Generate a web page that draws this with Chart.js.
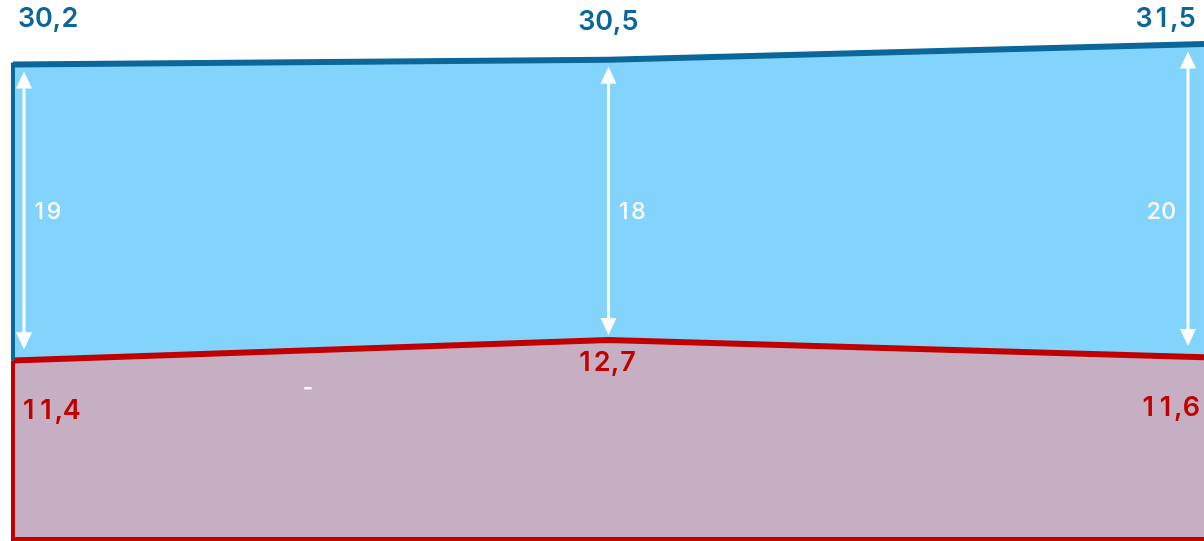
<!DOCTYPE html>
<html>
<head>
<meta charset="utf-8">
<script src="https://cdn.jsdelivr.net/npm/chart.js@4.4.0/dist/chart.umd.min.js"></script>
<style>
  html, body { margin: 0; padding: 0; background: #fff; }
  #wrap { width: 1204px; height: 541px; position: relative; }
</style>
</head>
<body>
<div id="wrap"><canvas id="myChart"></canvas></div>
<script>
// values
const categories = ['1', '2', '3'];
const topValues = [30.2, 30.5, 31.5];
const bottomValues = [11.4, 12.7, 11.6];
const gapLabels = ['19', '18', '20'];

const BLUE = '#0b6699';
const RED = '#c00000';
const FONT = 'Inter, "Liberation Sans", sans-serif';

function fmt(v) {
  return v.toFixed(1).replace('.', ',');
}

// draw numbers with equal-width digits (tabular look)
function numText(ctx, text, x, y, align, size, weight) {
  ctx.font = weight + ' ' + size + 'px ' + FONT;
  const cell = size * 0.64;
  const widths = text.split('').map(ch => /[0-9]/.test(ch) ? cell : ctx.measureText(ch).width);
  const total = widths.reduce((a, b) => a + b, 0);
  let cx = align === 'left' ? x : (align === 'right' ? x - total : x - total / 2);
  ctx.textAlign = 'center';
  ctx.textBaseline = 'middle';
  text.split('').forEach((ch, i) => {
    ctx.fillText(ch, cx + widths[i] / 2, y);
    cx += widths[i];
  });
}

function arrow(ctx, x, y1, y2) {
  ctx.save();
  ctx.strokeStyle = '#fff';
  ctx.fillStyle = '#fff';
  ctx.lineWidth = 3;
  ctx.beginPath();
  ctx.moveTo(x, y1 + 14);
  ctx.lineTo(x, y2 - 14);
  ctx.stroke();
  ctx.beginPath();
  ctx.moveTo(x, y1);
  ctx.lineTo(x - 8, y1 + 17);
  ctx.lineTo(x + 8, y1 + 17);
  ctx.closePath();
  ctx.fill();
  ctx.beginPath();
  ctx.moveTo(x, y2);
  ctx.lineTo(x - 8, y2 - 17);
  ctx.lineTo(x + 8, y2 - 17);
  ctx.closePath();
  ctx.fill();
  ctx.restore();
}

function interp(pts, i, x) {
  const j = i === pts.length - 1 ? i - 1 : i + 1;
  const f = (x - pts[i].x) / (pts[j].x - pts[i].x);
  return pts[i].y + (pts[j].y - pts[i].y) * f;
}

const decorations = {
  id: 'decorations',
  afterDatasetsDraw(chart) {
    const ctx = chart.ctx;
    const area = chart.chartArea;
    const top = chart.getDatasetMeta(0).data;
    const bot = chart.getDatasetMeta(1).data;
    const zeroY = chart.scales.y.getPixelForValue(0);

    // outline of the areas on the left and at the bottom
    ctx.save();
    ctx.lineWidth = 4;
    ctx.strokeStyle = BLUE;
    ctx.beginPath();
    ctx.moveTo(top[0].x, top[0].y - 2);
    ctx.lineTo(top[0].x, bot[0].y);
    ctx.stroke();
    ctx.strokeStyle = RED;
    ctx.beginPath();
    ctx.moveTo(bot[0].x, bot[0].y);
    ctx.lineTo(bot[0].x, zeroY - 1);
    ctx.lineTo(area.right, zeroY - 1);
    ctx.stroke();
    ctx.restore();

    const n = top.length;
    const gapY = area.top + area.height * 0.393;
    for (let i = 0; i < n; i++) {
      const first = i === 0, last = i === n - 1;
      const align = first ? 'left' : (last ? 'right' : 'center');

      // arrows between the two lines
      const ax = top[i].x + (first ? 11 : (last ? -16 : 0));
      arrow(ctx, ax, interp(top, i, ax) + 7, interp(bot, i, ax) - (first || last ? 11 : 5));

      ctx.save();
      ctx.fillStyle = BLUE;
      numText(ctx, fmt(topValues[i]), top[i].x + (first ? 5 : (last ? -8 : 0)),
        area.top + (first || last ? 19 : 22), align, 27, 600);
      ctx.fillStyle = RED;
      numText(ctx, fmt(bottomValues[i]), bot[i].x + (first ? 7 : (last ? -4 : -2)),
        bot[i].y + (first || last ? 50 : 23), align, 27, 600);

      ctx.fillStyle = '#fff';
      numText(ctx, gapLabels[i], last ? ax - 12 : ax + 8, gapY, last ? 'right' : 'left', 23, 500);
      ctx.restore();
    }

    // stray dash between first and second point
    ctx.save();
    ctx.fillStyle = '#fff';
    ctx.font = '600 22px ' + FONT;
    ctx.textAlign = 'center';
    ctx.textBaseline = 'middle';
    ctx.fillText('-', (bot[0].x + bot[1].x) / 2 - 3, bot[0].y + 28);
    ctx.restore();
  }
};

const ctx = document.getElementById('myChart').getContext('2d');
new Chart(ctx, {
  type: 'line',
  data: {
    labels: categories,
    datasets: [{
      data: topValues,
      borderColor: BLUE,
      borderWidth: 6,
      backgroundColor: '#82d4fd',
      fill: '+1',
      pointRadius: 0,
      tension: 0,
      order: 1
    }, {
      data: bottomValues,
      borderColor: RED,
      borderWidth: 6,
      backgroundColor: '#c6afc2',
      fill: 'origin',
      pointRadius: 0,
      tension: 0,
      order: 0
    }]
  },
  options: {
    responsive: true,
    maintainAspectRatio: false,
    animation: false,
    layout: { padding: { left: 13, right: 0, top: 0, bottom: 1 } },
    plugins: {
      legend: { display: false },
      tooltip: { enabled: false }
    },
    scales: {
      x: { display: false, offset: false },
      y: { display: false, min: 0, max: 34.3 }
    }
  },
  plugins: [decorations]
});
</script>
</body>
</html>
